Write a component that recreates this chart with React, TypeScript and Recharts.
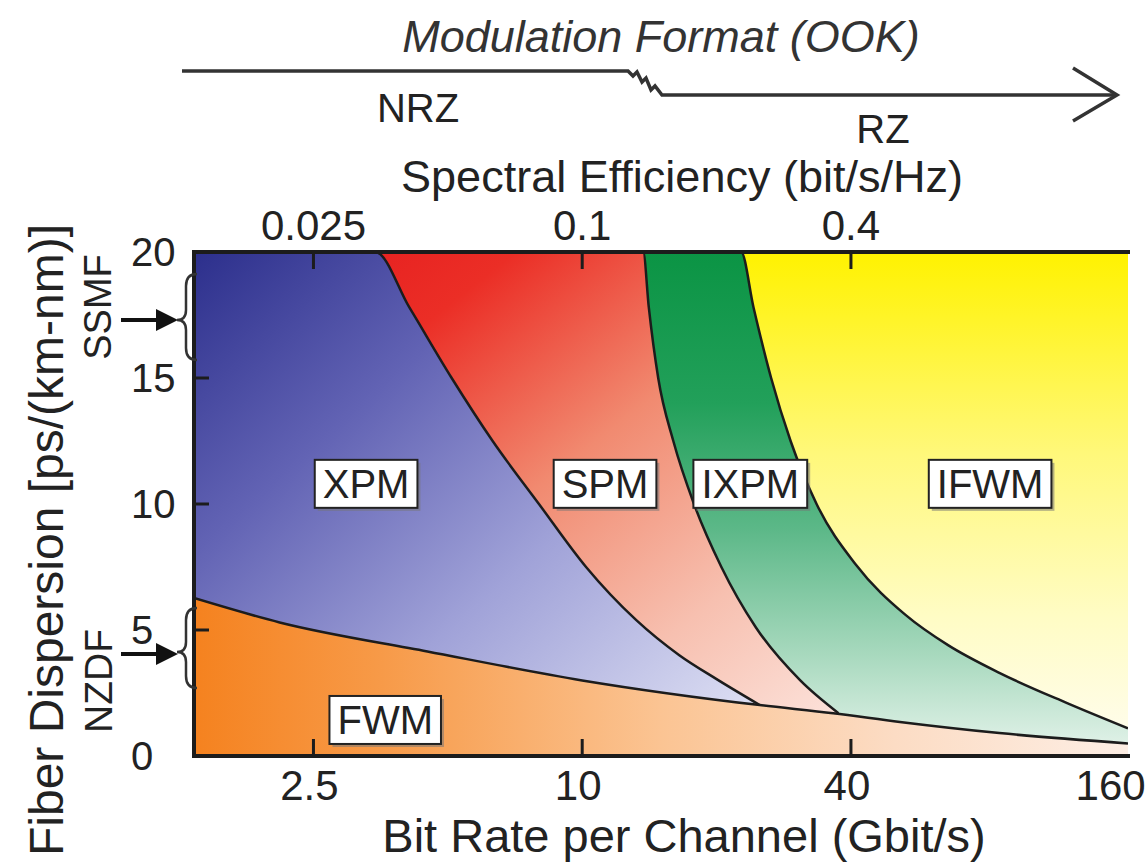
import React from 'react'
import { ComposedChart, Area, Scatter, XAxis, YAxis } from 'recharts'

// log-scaled bit rate axis (Gbit/s) and dispersion axis (ps/(km-nm))
const X_DOMAIN = [1.35, 167]
const Y_DOMAIN = [0, 20]
const BOTTOM_TICKS = [2.5, 10, 40, 160]
const TOP_TICKS = [2.5, 10, 40]
const TOP_TICK_LABELS = ['0.025', '0.1', '0.4']
const Y_TICKS = [0, 5, 10, 15, 20]

// region boundaries (bit rate -> dispersion)
const IFWM_RATE = [1.35, 167]
const IFWM_DISP = [20, 20]
const IXPM_RATE = [1.35, 22.7, 24.2, 26.5, 29.3, 33.5, 41, 53, 66, 86, 122, 167]
const IXPM_DISP = [20, 20, 17.8, 15, 12.5, 10, 7.6, 5.6, 4.4, 3.3, 2.1, 1.1]
const SPM_RATE = [1.35, 13.7, 14.1, 14.8, 16, 17.8, 20.5, 24.5, 30.8, 37.5]
const SPM_DISP = [20, 20, 17.8, 15, 12.5, 10, 7.5, 5.1, 3.0, 1.7]
const XPM_RATE = [1.35, 3.44, 4.1, 5.1, 6.3, 8, 10.2, 13.2, 16.5, 20, 25]
const XPM_DISP = [20, 20, 17.8, 15, 12.5, 10, 7.5, 5.4, 4.0, 3.05, 2.02]
const FWM_RATE = [1.35, 2.1, 4.5, 10, 25, 36.5, 51.5, 86, 167]
const FWM_DISP = [6.27, 5.3, 4.15, 3.0, 2.02, 1.7, 1.35, 0.91, 0.5]

const REGION_NAMES = ['XPM', 'SPM', 'IXPM', 'IFWM', 'FWM']
const REGION_RATE = [3.28, 11.25, 23.8, 82, 3.62]
const REGION_DISP = [10.8, 10.8, 10.8, 10.8, 1.43]

const FONT = '"Liberation Sans", Arial, Helvetica, sans-serif'
const INK = '#222'
const LINE = '#1c1c1c'

const pts = (xs: number[], ys: number[]) => xs.map((x, i) => ({ x, y: ys[i] }))
const labels = REGION_NAMES.map((name, i) => ({ name, x: REGION_RATE[i], y: REGION_DISP[i] }))

const CHAR_W: Record<string, number> = { X: 0.667, P: 0.667, M: 0.833, S: 0.667, I: 0.278, F: 0.611, W: 0.944 }

function RegionLabel(props: any) {
  const { cx, cy, payload } = props
  const name: string = payload.name
  const w = name.split('').reduce((s, c) => s + (CHAR_W[c] ?? 0.6), 0) * 40 + 16
  const h = 48
  return (
    <g>
      <rect x={cx - w / 2 + 3} y={cy - h / 2 + 3} width={w} height={h} fill="#777" opacity={0.55} />
      <rect x={cx - w / 2} y={cy - h / 2} width={w} height={h} fill="#fff" stroke={INK} strokeWidth={2} />
      <text x={cx} y={cy + 14} textAnchor="middle" fontSize={40} fill={INK} fontFamily={FONT}>{name}</text>
    </g>
  )
}

function BottomTick(props: any) {
  const { x, y, payload } = props
  const v = payload.value
  const last = v === BOTTOM_TICKS[BOTTOM_TICKS.length - 1]
  return (
    <g>
      {!last && <line x1={x} x2={x} y1={y} y2={y - 17} stroke={LINE} strokeWidth={3} />}
      <text x={last ? x + 26 : x - 4} y={y + 44} textAnchor={last ? 'end' : 'middle'} fontSize={42} fill={INK} fontFamily={FONT}>{v}</text>
    </g>
  )
}

function TopTick(props: any) {
  const { x, y, payload } = props
  const i = TOP_TICKS.indexOf(payload.value)
  return (
    <g>
      <line x1={x} x2={x} y1={y} y2={y + 17} stroke={LINE} strokeWidth={3} />
      <text x={x} y={y - 12} textAnchor="middle" fontSize={42} fill={INK} fontFamily={FONT}>{TOP_TICK_LABELS[i]}</text>
    </g>
  )
}

function LeftTick(props: any) {
  const { x, y, payload } = props
  const v = payload.value
  return (
    <g>
      {v > 0 && v < 20 && <line x1={x} x2={x + 15} y1={y} y2={y} stroke={LINE} strokeWidth={3} />}
      <text x={x - 63} y={y + 14} textAnchor="start" fontSize={40} fill={INK} fontFamily={FONT}>{v}</text>
    </g>
  )
}

const brace = (y0: number, ym: number, y1: number) =>
  `M197 ${y0} Q186 ${y0} 186 ${y0 + 12} L186 ${ym - 10} Q186 ${ym} 177 ${ym} Q186 ${ym} 186 ${ym + 10} L186 ${y1 - 12} Q186 ${y1} 197 ${y1}`

export default function App() {
  const axisLine = { stroke: LINE, strokeWidth: 4, strokeLinecap: 'square' as const }
  return (
    <div style={{ position: 'absolute', left: 0, top: 0, width: 1147, height: 868, background: '#fff', fontFamily: FONT }}>
      <ComposedChart width={1147} height={868} margin={{ top: 212, right: 19, bottom: 52, left: 130 }}>
        <defs>
          <linearGradient id="gYellow" x1="0" y1="0" x2="0" y2="1">
            <stop offset="0%" stopColor="#fff200" />
            <stop offset="40%" stopColor="#fff87a" />
            <stop offset="72%" stopColor="#fffcc4" />
            <stop offset="100%" stopColor="#fffdf2" />
          </linearGradient>
          <linearGradient id="gGreen" x1="0" y1="0" x2="0" y2="1">
            <stop offset="0%" stopColor="#0b9444" />
            <stop offset="30%" stopColor="#22a05a" />
            <stop offset="55%" stopColor="#5cb888" />
            <stop offset="80%" stopColor="#a8d9be" />
            <stop offset="100%" stopColor="#e6f4ec" />
          </linearGradient>
          <linearGradient id="gRed" x1="0" y1="0" x2="1" y2="1">
            <stop offset="0%" stopColor="#e3141b" />
            <stop offset="25%" stopColor="#eb2e26" />
            <stop offset="50%" stopColor="#f18a70" />
            <stop offset="75%" stopColor="#f7c0b0" />
            <stop offset="100%" stopColor="#fde8e2" />
          </linearGradient>
          <linearGradient id="gBlue" x1="0" y1="0" x2="1" y2="1">
            <stop offset="0%" stopColor="#2c2f8c" />
            <stop offset="30%" stopColor="#6263b4" />
            <stop offset="60%" stopColor="#a0a2d8" />
            <stop offset="100%" stopColor="#e6e8f7" />
          </linearGradient>
          <linearGradient id="gOrange" x1="0" y1="0" x2="1" y2="0">
            <stop offset="0%" stopColor="#f5821f" />
            <stop offset="20%" stopColor="#f79a48" />
            <stop offset="50%" stopColor="#fbc493" />
            <stop offset="75%" stopColor="#fcdcc4" />
            <stop offset="100%" stopColor="#fdeee4" />
          </linearGradient>
        </defs>

        <Area data={pts(IFWM_RATE, IFWM_DISP)} dataKey="y" type="linear" fill="url(#gYellow)" fillOpacity={1} stroke="none" dot={false} activeDot={false} isAnimationActive={false} />
        <Area data={pts(IXPM_RATE, IXPM_DISP)} dataKey="y" type="monotone" fill="url(#gGreen)" fillOpacity={1} stroke={LINE} strokeWidth={2.5} dot={false} activeDot={false} isAnimationActive={false} />
        <Area data={pts(SPM_RATE, SPM_DISP)} dataKey="y" type="monotone" fill="url(#gRed)" fillOpacity={1} stroke={LINE} strokeWidth={2.5} dot={false} activeDot={false} isAnimationActive={false} />
        <Area data={pts(XPM_RATE, XPM_DISP)} dataKey="y" type="monotone" fill="url(#gBlue)" fillOpacity={1} stroke={LINE} strokeWidth={2.5} dot={false} activeDot={false} isAnimationActive={false} />
        <Area data={pts(FWM_RATE, FWM_DISP)} dataKey="y" type="monotone" fill="url(#gOrange)" fillOpacity={1} stroke={LINE} strokeWidth={2.5} dot={false} activeDot={false} isAnimationActive={false} />

        <XAxis dataKey="x" type="number" scale="log" domain={X_DOMAIN} allowDataOverflow ticks={BOTTOM_TICKS} interval={0}
          tick={BottomTick} tickLine={false} tickSize={0} tickMargin={0} height={60} axisLine={axisLine} />
        <XAxis xAxisId="top" orientation="top" dataKey="x" type="number" scale="log" domain={X_DOMAIN} allowDataOverflow ticks={TOP_TICKS} interval={0}
          tick={TopTick} tickLine={false} tickSize={0} tickMargin={0} height={40} axisLine={axisLine} />
        <YAxis type="number" domain={Y_DOMAIN} ticks={Y_TICKS} interval={0} tick={LeftTick} tickLine={false} tickSize={0} tickMargin={0} width={64} axisLine={axisLine} />
        <YAxis yAxisId="right" orientation="right" type="number" domain={Y_DOMAIN} tick={false} tickLine={false} width={0} axisLine={axisLine} />

        <Scatter data={labels} dataKey="y" shape={RegionLabel} isAnimationActive={false} />
      </ComposedChart>

      <svg width={1147} height={868} style={{ position: 'absolute', left: 0, top: 0, pointerEvents: 'none' }} fontFamily={FONT}>
        <text x={661} y={52} textAnchor="middle" fontSize={45} fontStyle="italic" fill="#333">Modulation Format (OOK)</text>
        <path d="M182 71 H628 L633 76 L637 72 L642 82 L646 78 L651 90 L655 86 L662 95 H1117" fill="none" stroke="#333" strokeWidth={3.5} />
        <path d="M1073 68 L1117 95 L1073 121" fill="none" stroke="#333" strokeWidth={3.5} />
        <text x={418} y={122} textAnchor="middle" fontSize={40} fill={INK}>NRZ</text>
        <text x={883} y={143} textAnchor="middle" fontSize={40} fill={INK}>RZ</text>
        <text x={682} y={192} textAnchor="middle" fontSize={45} fill={INK}>Spectral Efficiency (bit/s/Hz)</text>
        <text x={684} y={852} textAnchor="middle" fontSize={47} fill={INK}>Bit Rate per Channel (Gbit/s)</text>
        <text transform="translate(46,540) rotate(-90)" textAnchor="middle" dy="0.35em" fontSize={48} fill={INK}>Fiber Dispersion [ps/(km-nm)]</text>

        <text transform="translate(98,307) rotate(-90)" textAnchor="middle" dy="0.35em" fontSize={38} fill={INK}>SSMF</text>
        <text transform="translate(98,681) rotate(-90)" textAnchor="middle" dy="0.35em" fontSize={39} fill={INK}>NZDF</text>
        <line x1={121} x2={160} y1={320} y2={320} stroke="#111" strokeWidth={4} />
        <path d="M156 309 L178 320 L156 331 Z" fill="#111" />
        <line x1={121} x2={160} y1={654} y2={654} stroke="#111" strokeWidth={4} />
        <path d="M156 643 L178 654 L156 665 Z" fill="#111" />
        <path d={brace(274, 320, 360)} fill="none" stroke="#333" strokeWidth={2.5} />
        <path d={brace(608, 652, 688)} fill="none" stroke="#333" strokeWidth={2.5} />
      </svg>
    </div>
  )
}
